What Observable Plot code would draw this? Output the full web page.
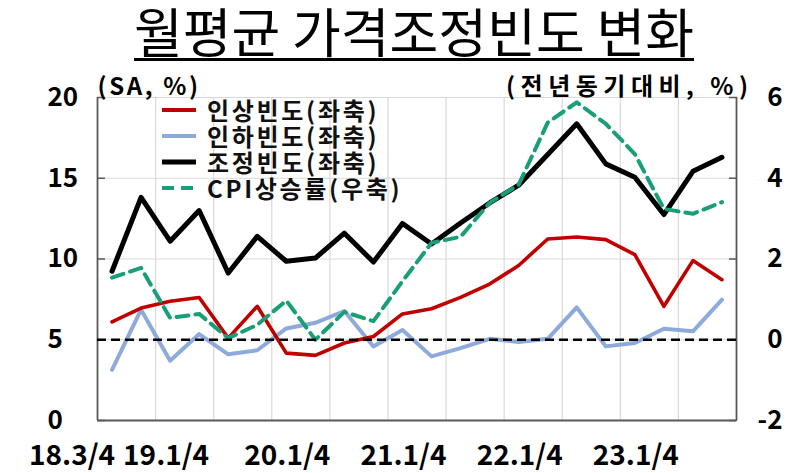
<!DOCTYPE html>
<html><head><meta charset="utf-8">
<script src="https://cdn.jsdelivr.net/npm/d3@7"></script>
<script src="https://cdn.jsdelivr.net/npm/@observablehq/plot@0.6"></script>
<style>
html,body{margin:0;padding:0;background:#fff;}
#wrap{position:relative;width:800px;height:473px;font-family:"Noto Sans CJK KR","Noto Sans",sans-serif;}
#title{position:absolute;left:28px;top:0;width:772px;height:66px;text-align:center;}
#title span{display:inline-block;font-size:53px;line-height:53px;margin-top:4px;padding-bottom:1px;border-bottom:3px solid #000;color:#000;}
#chart{position:absolute;left:0;top:66px;}
#legend{position:absolute;left:160px;top:97px;font-size:24px;font-weight:bold;color:#111;letter-spacing:2.7px;}
#legend .row{height:26px;display:flex;align-items:center;}
#legend span{display:inline-block;height:26px;line-height:26px;}
#legend svg{width:44px;height:26px;margin-right:3px;}
</style>
</head><body>
<div id="wrap">
  <div id="title"><span>월평균 가격조정빈도 변화</span></div>
  <div id="chart"></div>
  <div id="legend"></div>
</div>
<script>
// Quarters 18.3/4 .. 23.4/4
const quarters = ["18.3/4","18.4/4","19.1/4","19.2/4","19.3/4","19.4/4","20.1/4","20.2/4","20.3/4","20.4/4",
  "21.1/4","21.2/4","21.3/4","21.4/4","22.1/4","22.2/4","22.3/4","22.4/4","23.1/4","23.2/4","23.3/4","23.4/4"];
const tickLabels = ["18.3/4","19.1/4","20.1/4","21.1/4","22.1/4","23.1/4"];
// 인상빈도 (left axis, %)
const upFreq = [6.1,6.96,7.38,7.62,5.1,7.07,4.17,4.03,4.8,5.2,6.6,6.92,7.62,8.45,9.6,11.24,11.36,11.2,10.27,7.07,9.9,8.72];
// 인하빈도 (left axis, %)
const downFreq = [3.14,6.86,3.7,5.35,4.1,4.35,5.7,6.05,6.78,4.58,5.6,3.97,4.48,5.06,4.86,5.06,7.0,4.59,4.8,5.68,5.52,7.48];
// 조정빈도 (left axis, %)
const adjFreq = [9.24,13.82,11.1,13.0,9.13,11.4,9.86,10.06,11.6,9.81,12.2,10.93,12.23,13.47,14.57,16.47,18.37,15.89,15.06,12.75,15.43,16.3];
// CPI 상승률 (right axis, 전년동기대비 %)
const cpi = [1.54,1.78,0.54,0.64,0.04,0.37,0.97,0.0,0.69,0.46,1.45,2.4,2.55,3.39,3.84,5.38,5.88,5.35,4.6,3.24,3.12,3.41];
const leftUnit = "(SA, %)";
const rightUnit = "(전년동기대비, %)";

const leftTicks = [0,5,10,15,20];
// right axis relation: right = (left - 5) * 0.4
const toLeft = r => r * 2.5 + 5;
const toRight = l => (l - 5) * 0.4;

const rows = quarters.map((q, i) => ({i, q, up: upFreq[i], down: downFreq[i], adj: adjFreq[i], cpiL: toLeft(cpi[i])}));
const idx = l => quarters.indexOf(l);

const C = {red:"#c00000", blue:"#8eaadb", black:"#000000", green:"#1a9e78", axis:"#595959", grid:"#d9d9d9"};
const font = "Noto Sans CJK KR";
const xLab = {anchor: "bottom", label: null, tickFormat: i => quarters[i], tickSize: 0, tickPadding: 36,
  lineAnchor: "middle", fontSize: 28, fontWeight: "bold", fill: "#000"};

const plot = Plot.plot({
  width: 800, height: 407,
  marginTop: 31, marginBottom: 53, marginLeft: 97, marginRight: 64,
  style: {fontFamily: font, background: "#fff", overflow: "visible"},
  x: {domain: [-0.5, quarters.length - 0.5], axis: null},
  y: {domain: [0, 20], axis: null},
  marks: [
    Plot.ruleY([5,10,15,20], {stroke: C.grid, strokeWidth: 1.2}),
    Plot.ruleX(d3.range(1.5, quarters.length - 1, 2), {stroke: C.grid, strokeWidth: 1.2}),
    Plot.ruleX([-0.5, quarters.length - 0.5], {stroke: C.axis, strokeWidth: 1.8}),
    Plot.ruleY([0], {stroke: C.axis, strokeWidth: 1.8}),
    Plot.axisY({anchor: "left", label: null, ticks: leftTicks, tickSize: -8, stroke: C.axis, strokeWidth: 1.5, text: null}),
    Plot.axisY({anchor: "right", label: null, ticks: leftTicks, tickSize: -8, stroke: C.axis, strokeWidth: 1.5, text: null}),
    Plot.axisY({anchor: "left", label: null, ticks: leftTicks, tickSize: 0, tickPadding: 3, textAnchor: "start", dx: -47,
      fontSize: 26, fontWeight: "bold", fill: "#000"}),
    Plot.axisY({anchor: "right", label: null, ticks: leftTicks, tickSize: 0, tickPadding: 3, textAnchor: "end", dx: 43,
      tickFormat: d => String(toRight(d)), fontSize: 26, fontWeight: "bold", fill: "#000"}),
    Plot.axisX({...xLab, ticks: [idx(tickLabels[0])], dx: -40}),
    Plot.axisX({...xLab, ticks: [idx(tickLabels[1])], dx: -4}),
    Plot.axisX({...xLab, ticks: tickLabels.slice(2).map(idx), dx: 1}),
    Plot.text([leftUnit], {frameAnchor: "top-left", textAnchor: "start", dy: -20, fontSize: 24, fontWeight: "bold", fill: "#000"}),
    Plot.text([rightUnit], {frameAnchor: "top-right", textAnchor: "end", dx: 17, dy: -20, fontSize: 24, fontWeight: "bold", fill: "#000"}),
    Plot.line(rows, {x: "i", y: "down", stroke: C.blue, strokeWidth: 4}),
    Plot.line(rows, {x: "i", y: "up", stroke: C.red, strokeWidth: 3.6}),
    Plot.line(rows, {x: "i", y: "adj", stroke: C.black, strokeWidth: 5}),
    Plot.line(rows, {x: "i", y: "cpiL", stroke: C.green, strokeWidth: 4, strokeDasharray: "12,7"}),
    Plot.ruleY([toLeft(0)], {stroke: "#000", strokeWidth: 2.5, strokeDasharray: "9,5"})
  ]
});
// widen the unit labels like the reference
d3.select(plot).selectAll("text").each(function() {
  const t = this.textContent;
  if (t === leftUnit) this.style.letterSpacing = "2.6px";
  if (t === rightUnit) this.style.letterSpacing = "5.5px";
});
document.getElementById("chart").appendChild(plot);

const legendItems = [
  {label: "인상빈도(좌축)", color: C.red, w: 4, dash: null},
  {label: "인하빈도(좌축)", color: C.blue, w: 4, dash: null},
  {label: "조정빈도(좌축)", color: C.black, w: 5, dash: null},
  {label: "CPI상승률(우축)", color: C.green, w: 4, dash: "12,7"}
];
const lg = d3.select("#legend");
legendItems.forEach(it => {
  const r = lg.append("div").attr("class", "row");
  const s = r.append("svg");
  s.append("line").attr("x1", 2).attr("x2", 36).attr("y1", 13).attr("y2", 13)
    .attr("stroke", it.color).attr("stroke-width", it.w).attr("stroke-dasharray", it.dash);
  r.append("span").text(it.label);
});
</script>
</body></html>
